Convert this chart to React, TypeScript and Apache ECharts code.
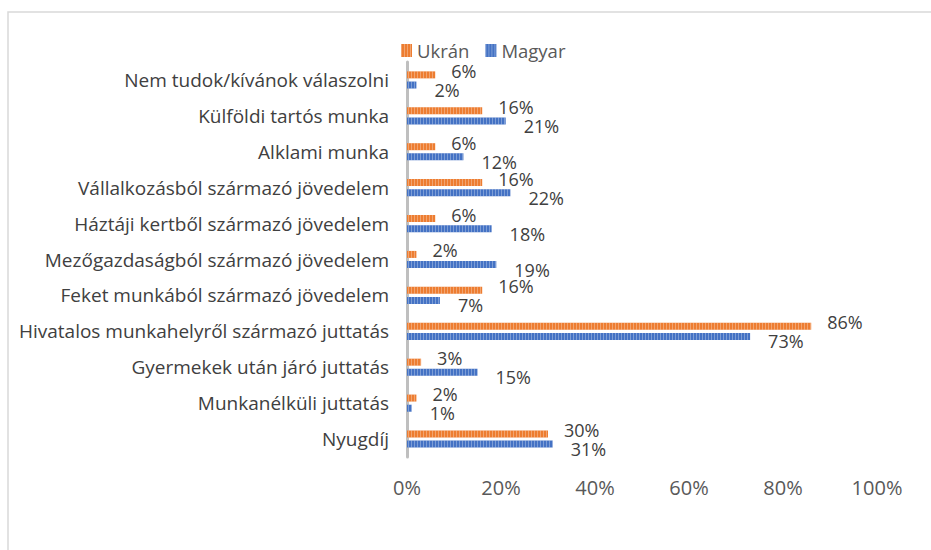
import React, { useEffect, useRef } from "react";
import * as echarts from "echarts";

const categories = [
  "Nem tudok/kívánok válaszolni",
  "Külföldi tartós munka",
  "Alklami munka",
  "Vállalkozásból származó jövedelem",
  "Háztáji kertből származó jövedelem",
  "Mezőgazdaságból származó jövedelem",
  "Feket munkából származó jövedelem",
  "Hivatalos munkahelyről származó juttatás",
  "Gyermekek után járó juttatás",
  "Munkanélküli juttatás",
  "Nyugdíj",
];
const ukranValues = [6, 16, 6, 16, 6, 2, 16, 86, 3, 2, 30];
const magyarValues = [2, 21, 12, 22, 18, 19, 7, 73, 15, 1, 31];
const seriesNames = ["Ukrán", "Magyar"];

const FONT = "'Open Sans', sans-serif";

export default function App() {
  const ref = useRef<HTMLDivElement>(null);
  useEffect(() => {
    document.body.style.margin = "0";
    const chart = echarts.init(ref.current!, null, { renderer: "svg" });
    const decalFor = (c: string) => ({
      symbol: "rect",
      symbolSize: 1,
      color: c,
      dashArrayX: [1, 2],
      dashArrayY: [10, 0],
      rotation: 0,
    });
    chart.setOption({
      animation: false,
      textStyle: { fontFamily: FONT },
      graphic: [
        {
          type: "rect",
          shape: { x: 8, y: 12, width: 1000, height: 1000 },
          style: { fill: "none", stroke: "#d9d9d9", lineWidth: 1.5 },
          silent: true,
        },
      ],
      legend: {
        data: seriesNames,
        top: 36,
        left: 396,
        itemWidth: 11,
        itemHeight: 13,
        itemGap: 16,
        icon: "rect",
        textStyle: { fontFamily: FONT, fontSize: 18.5, color: "#595959" },
      },
      grid: { left: 407, width: 470, top: 62, height: 395 },
      xAxis: {
        type: "value",
        min: 0,
        max: 100,
        interval: 20,
        axisLine: { show: false },
        axisTick: { show: false },
        splitLine: { show: false },
        axisLabel: {
          formatter: "{value}%",
          fontFamily: FONT,
          fontSize: 20,
          color: "#595959",
          margin: 20,
        },
      },
      yAxis: {
        type: "category",
        data: categories,
        inverse: true,
        axisLine: { lineStyle: { color: "#bfbfbf", width: 3 } },
        axisTick: { show: false },
        axisLabel: {
          fontFamily: FONT,
          fontSize: 19,
          color: "#404040",
          margin: 18,
        },
      },
      series: [
        {
          name: seriesNames[0],
          type: "bar",
          data: ukranValues,
          barWidth: 7,
          barGap: "45%",
          itemStyle: { color: "#ED7D31", decal: decalFor("rgba(255,255,255,0.3)") },
          label: {
            show: true,
            position: "right",
            distance: 16,
            offset: [0, -4],
            formatter: (p: any) => p.value + "%",
            fontFamily: FONT,
            fontSize: 18,
            lineHeight: 14,
            color: "#404040",
          },
        },
        {
          name: seriesNames[1],
          type: "bar",
          data: magyarValues,
          barWidth: 7,
          barGap: "45%",
          itemStyle: { color: "#4472C4", decal: decalFor("rgba(255,255,255,0.3)") },
          label: {
            show: true,
            position: "right",
            distance: 18,
            offset: [0, 5],
            formatter: (p: any) => p.value + "%",
            fontFamily: FONT,
            fontSize: 18,
            lineHeight: 14,
            color: "#404040",
          },
        },
      ],
    });
    return () => chart.dispose();
  }, []);
  return <div ref={ref} style={{ width: 931, height: 550 }} />;
}
